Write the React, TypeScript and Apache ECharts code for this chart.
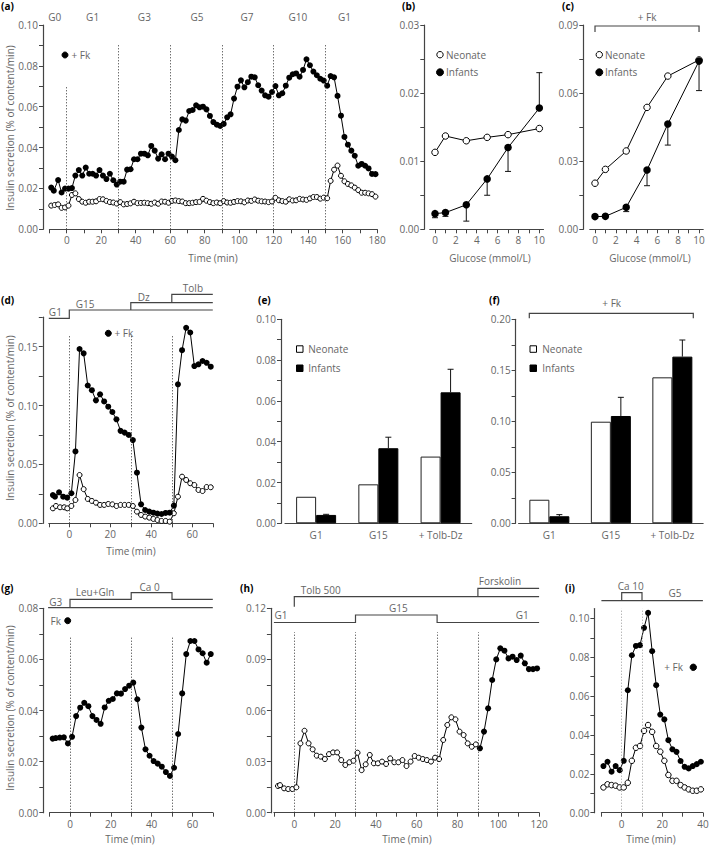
import React, { useEffect, useRef } from 'react';
import * as echarts from 'echarts';

const FONT = '"Open Sans", "Noto Sans", "DejaVu Sans", sans-serif';
const TXT = '#666';
const AXC = '#444';
const Y_TITLE = 'Insulin secretion (% of content/min)';

// ---------- (a) ----------
const aTimeFk = [-9, -7.5, -5, -3, -1, 1, 3, 5, 7, 9, 11, 13, 15, 17, 19, 21, 23, 25, 27, 29, 31, 33, 35, 37, 39, 41, 43, 45, 47, 49, 51, 53, 55, 57, 59, 61, 63, 65, 67, 69, 71, 73, 75, 77, 79, 81, 83, 85, 87, 89, 91, 93, 95, 97, 99, 101, 103, 105, 107, 109, 111, 113, 115, 117, 119, 121, 123, 125, 127, 129, 131, 133, 135, 137, 139, 141, 143, 145, 147, 149, 151, 153, 155, 157, 159, 161, 163, 165, 167, 169, 171, 173, 175, 177, 179];
const aFk = [0.0204, 0.0189, 0.0241, 0.018, 0.0199, 0.0199, 0.0202, 0.0263, 0.029, 0.0263, 0.0302, 0.0272, 0.0272, 0.0263, 0.029, 0.0263, 0.0246, 0.0272, 0.024, 0.0219, 0.0233, 0.0233, 0.0292, 0.0294, 0.0343, 0.0343, 0.037, 0.037, 0.0362, 0.0408, 0.0385, 0.0346, 0.0367, 0.0343, 0.037, 0.0356, 0.0338, 0.0486, 0.0538, 0.0532, 0.0579, 0.0584, 0.0607, 0.0597, 0.06, 0.0587, 0.0555, 0.0525, 0.0512, 0.0506, 0.0516, 0.0548, 0.0563, 0.064, 0.0698, 0.0729, 0.0695, 0.072, 0.0747, 0.0744, 0.0705, 0.0679, 0.0656, 0.0649, 0.0672, 0.0701, 0.0656, 0.0666, 0.0703, 0.0742, 0.0759, 0.0763, 0.0747, 0.078, 0.0832, 0.0803, 0.0772, 0.0754, 0.0737, 0.0728, 0.0703, 0.075, 0.0744, 0.0653, 0.0556, 0.0452, 0.0414, 0.0385, 0.036, 0.0311, 0.032, 0.0311, 0.0298, 0.0271, 0.027];
const aTimeCtl = [-9, -7, -5, -3, -1, 1, 3, 5, 7, 9, 11, 13, 15, 17, 19, 21, 23, 25, 27, 29, 31, 33, 35, 37, 39, 41, 43, 45, 47, 49, 51, 53, 55, 57, 59, 61, 63, 65, 67, 69, 71, 73, 75, 77, 79, 81, 83, 85, 87, 89, 91, 93, 95, 97, 99, 101, 103, 105, 107, 109, 111, 113, 115, 117, 119, 121, 123, 125, 127, 129, 131, 133, 135, 137, 139, 141, 143, 145, 147, 149, 151, 153, 155, 157, 159, 161, 163, 165, 167, 169, 171, 173, 175, 177, 179];
const aCtl = [0.0116, 0.0119, 0.0122, 0.0105, 0.0107, 0.0116, 0.0168, 0.0176, 0.0148, 0.0135, 0.013, 0.0135, 0.0135, 0.0137, 0.0148, 0.0147, 0.0139, 0.0133, 0.0131, 0.0126, 0.0133, 0.0122, 0.0124, 0.0127, 0.0135, 0.0128, 0.0129, 0.013, 0.0128, 0.0125, 0.0131, 0.0125, 0.0136, 0.0135, 0.013, 0.0139, 0.0141, 0.0138, 0.0136, 0.0128, 0.0128, 0.013, 0.0133, 0.0134, 0.0149, 0.014, 0.0133, 0.0128, 0.0131, 0.0128, 0.0138, 0.0131, 0.013, 0.0134, 0.0138, 0.0137, 0.0132, 0.0141, 0.0139, 0.0146, 0.014, 0.0137, 0.0136, 0.0133, 0.0136, 0.0154, 0.0142, 0.0138, 0.0135, 0.0147, 0.0141, 0.0142, 0.0149, 0.0146, 0.0144, 0.0151, 0.0158, 0.0158, 0.015, 0.0155, 0.0152, 0.0237, 0.0292, 0.0312, 0.0262, 0.0235, 0.0222, 0.0215, 0.0204, 0.0192, 0.0179, 0.0179, 0.0176, 0.0172, 0.016];
const aYTicks = [0, 0.01, 0.02, 0.03, 0.04, 0.05, 0.06, 0.07, 0.08, 0.09, 0.1];
const aYLabels = [0, 0.02, 0.04, 0.06, 0.08, 0.1];
const aXTicks = [-10, 0, 10, 20, 30, 40, 50, 60, 70, 80, 90, 100, 110, 120, 130, 140, 150, 160, 170, 180];
const aXLabels = [0, 20, 40, 60, 80, 100, 120, 140, 160, 180];
const aPhaseT = [0, 30, 60, 90, 120, 150];
const aPhaseTop = [0.07, 0.091, 0.091, 0.091, 0.091, 0.091];
const aCondNames = ['G0', 'G1', 'G3', 'G5', 'G7', 'G10', 'G1'];
const aCondT = [-7, 15, 45, 75.5, 104.5, 134, 161];

// ---------- (b) & (c) ----------
const glucose = [0, 1, 3, 5, 7, 10];
const bNeo = [0.0113, 0.0137, 0.013, 0.0135, 0.0139, 0.0148];
const bInf = [0.0023, 0.00245, 0.0036, 0.0074, 0.012, 0.0178];
const bInfErr = [0.0017, 0.0019, 0.0012, 0.005, 0.0085, 0.023];
const bYTicks = [0, 0.005, 0.01, 0.015, 0.02, 0.025, 0.03];
const bYLabels = [0, 0.01, 0.02, 0.03];
const cNeo = [0.0203, 0.0264, 0.0345, 0.0537, 0.0675, 0.0746];
const cInf = [0.0056, 0.0057, 0.0097, 0.0261, 0.0464, 0.0741];
const cInfErr = [0.0056, 0.0057, 0.0078, 0.0192, 0.0371, 0.0611];
const cYTicks = [0, 0.015, 0.03, 0.045, 0.06, 0.075, 0.09];
const cYLabels = [0, 0.03, 0.06, 0.09];
const glcTicks = [0, 1, 2, 3, 4, 5, 6, 7, 8, 9, 10];
const glcLabels = [0, 2, 4, 6, 8, 10];

// ---------- (d) ----------
const dTimeFk = [-8, -7, -5, -3, -1, 1, 3, 5, 7, 9, 11, 13, 15, 17, 19, 21, 23, 25, 27, 29, 31, 33, 35, 37, 39, 41, 43, 45, 47, 49, 51, 53, 55, 57, 59, 61, 63, 65, 67, 69];
const dFk = [0.024, 0.0226, 0.0263, 0.0226, 0.0218, 0.0255, 0.061, 0.148, 0.1443, 0.117, 0.113, 0.1044, 0.1095, 0.1035, 0.099, 0.0945, 0.0883, 0.0785, 0.077, 0.075, 0.0707, 0.043, 0.0161, 0.0113, 0.0099, 0.009, 0.0082, 0.0079, 0.0088, 0.009, 0.015, 0.118, 0.147, 0.166, 0.162, 0.1335, 0.135, 0.1378, 0.1363, 0.133];
const dTimeCtl = [-8, -6.5, -4.5, -2.5, -1, 1, 3, 5, 7, 9, 11, 13, 15, 17, 19, 21, 23, 25, 27, 29, 31, 33, 35, 37, 39, 41, 43, 45, 47, 49, 51, 53, 55, 57, 59, 61, 63, 65, 67, 69];
const dCtl = [0.0127, 0.0147, 0.0136, 0.0136, 0.0127, 0.0147, 0.0198, 0.041, 0.029, 0.0207, 0.019, 0.0175, 0.0156, 0.0156, 0.0164, 0.0161, 0.0147, 0.0156, 0.0156, 0.0156, 0.0147, 0.0099, 0.0071, 0.0057, 0.0048, 0.0037, 0.0028, 0.002, 0.002, 0.0014, 0.0085, 0.0226, 0.0396, 0.0368, 0.034, 0.0325, 0.0283, 0.0274, 0.0308, 0.0306];
const dYTicks = [0, 0.025, 0.05, 0.075, 0.1, 0.125, 0.15, 0.175];
const dYLabels = [0, 0.05, 0.1, 0.15];
const m70Ticks = [-10, 0, 10, 20, 30, 40, 50, 60, 70];
const m70Labels = [0, 20, 40, 60];
const dPhaseT = [0, 30, 50];
const dPhaseTop = [0.16, 0.16, 0.16];

// ---------- (e) & (f) ----------
const barCats = ['G1', 'G15', '+ Tolb-Dz'];
const eNeo = [0.013, 0.0191, 0.0327];
const eInf = [0.0041, 0.0368, 0.0642];
const eInfErr = [0.0044, 0.0422, 0.0755];
const eYTicks = [0, 0.01, 0.02, 0.03, 0.04, 0.05, 0.06, 0.07, 0.08, 0.09, 0.1];
const eYLabels = [0, 0.02, 0.04, 0.06, 0.08, 0.1];
const fNeo = [0.0231, 0.0996, 0.1431];
const fInf = [0.0069, 0.1052, 0.1634];
const fInfErr = [0.0085, 0.1235, 0.1797];
const fYTicks = [0, 0.025, 0.05, 0.075, 0.1, 0.125, 0.15, 0.175, 0.2];
const fYLabels = [0, 0.05, 0.1, 0.15, 0.2];

// ---------- (g) ----------
const gTime = [-8.5, -7, -5, -3, -1, 1, 3, 5, 7, 9, 11, 13, 15, 17, 19, 21, 23, 25, 27, 29, 31, 33, 35, 37, 39, 41, 43, 45, 47, 49, 51, 53, 55, 57, 59, 61, 63, 65, 67, 69];
const gFk = [0.029, 0.0292, 0.0294, 0.0295, 0.0271, 0.0297, 0.0378, 0.0411, 0.043, 0.0417, 0.0378, 0.0363, 0.0348, 0.0412, 0.0438, 0.0445, 0.0467, 0.0466, 0.0484, 0.0497, 0.0509, 0.0444, 0.0333, 0.0248, 0.0223, 0.0202, 0.0192, 0.018, 0.0159, 0.0144, 0.0176, 0.0308, 0.0467, 0.0621, 0.0672, 0.0672, 0.0639, 0.0624, 0.0587, 0.0621];
const gYTicks = [0, 0.01, 0.02, 0.03, 0.04, 0.05, 0.06, 0.07, 0.08];
const gYLabels = [0, 0.02, 0.04, 0.06, 0.08];
const gPhaseT = [0, 30, 50];
const gPhaseTop = [0.069, 0.069, 0.069];

// ---------- (h) ----------
const hTimeCtl = [-8, -7, -5, -3, -1, 1, 3, 5, 7, 9, 11, 13, 15, 17, 19, 21, 23, 25, 27, 29, 31, 33, 35, 37, 39, 41, 43, 45, 47, 49, 51, 53, 55, 57, 59, 61, 63, 65, 67, 69, 71, 73, 75, 77, 79, 81, 83, 85, 87, 89];
const hCtl = [0.0157, 0.0162, 0.0143, 0.0139, 0.0139, 0.0149, 0.0407, 0.0481, 0.0407, 0.0372, 0.0335, 0.0329, 0.0315, 0.0344, 0.0354, 0.0354, 0.0309, 0.028, 0.0296, 0.0305, 0.0352, 0.025, 0.0284, 0.0339, 0.029, 0.029, 0.03, 0.0286, 0.0319, 0.0296, 0.0296, 0.0309, 0.0274, 0.03, 0.0333, 0.0323, 0.0315, 0.0309, 0.03, 0.0323, 0.0315, 0.0427, 0.0515, 0.056, 0.0548, 0.0476, 0.0456, 0.0407, 0.0387, 0.0401];
const hTimeFsk = [91, 93, 95, 97, 99, 101, 103, 105, 107, 109, 111, 113, 115, 117, 119];
const hFsk = [0.0378, 0.0476, 0.0613, 0.0779, 0.09, 0.0965, 0.0951, 0.0906, 0.0916, 0.0896, 0.0922, 0.0877, 0.0843, 0.0843, 0.0847];
const hYTicks = [0, 0.015, 0.03, 0.045, 0.06, 0.075, 0.09, 0.105, 0.12];
const hYLabels = [0, 0.03, 0.06, 0.09, 0.12];
const hXTicks = [-10, 0, 10, 20, 30, 40, 50, 60, 70, 80, 90, 100, 110, 120];
const hXLabels = [0, 20, 40, 60, 80, 100, 120];
const hPhaseT = [0, 30, 70, 90];
const hPhaseTop = [0.106, 0.106, 0.106, 0.106];

// ---------- (i) ----------
const iTime = [-9, -7, -5, -3, -1, 1, 3, 5, 7, 9, 11, 13, 15, 17, 19, 21, 23, 25, 27, 29, 31, 33, 35, 37, 39];
const iFk = [0.024, 0.0262, 0.0211, 0.024, 0.0219, 0.0267, 0.063, 0.081, 0.0858, 0.0862, 0.0951, 0.1028, 0.0831, 0.0656, 0.0505, 0.048, 0.0373, 0.0326, 0.0313, 0.0266, 0.0236, 0.0228, 0.024, 0.025, 0.0262];
const iCtl = [0.013, 0.0146, 0.0142, 0.0139, 0.013, 0.013, 0.0154, 0.0267, 0.0334, 0.0343, 0.0421, 0.0451, 0.0416, 0.0343, 0.0314, 0.0267, 0.0194, 0.0164, 0.0164, 0.0142, 0.013, 0.012, 0.0113, 0.0113, 0.012];
const iYTicks = [0, 0.01, 0.02, 0.03, 0.04, 0.05, 0.06, 0.07, 0.08, 0.09, 0.1];
const iYLabels = [0, 0.02, 0.04, 0.06, 0.08, 0.1];
const iXTicks = [-10, 0, 10, 20, 30, 40];
const iXLabels = [0, 20, 40];
const iPhaseT = [0, 10];
const iPhaseTop = [0.105, 0.105];

// ---------- helpers ----------
const zip = (xs: number[], ys: number[]) => xs.map((x, i) => [x, ys[i]]);

const axisLine = { show: true, onZero: false, lineStyle: { color: AXC, width: 1.2 } };
const labelStyle = { color: TXT, fontSize: 10, fontFamily: FONT };

function xVal(gridIndex: number, min: number, max: number, ticks: number[], labels: number[]) {
  return {
    type: 'value', gridIndex, min, max,
    axisLine,
    axisTick: { show: true, customValues: ticks, length: 4, lineStyle: { color: AXC, width: 1 } },
    axisLabel: { show: true, customValues: labels, margin: 6, formatter: (v: number) => String(v), ...labelStyle },
    splitLine: { show: false },
  };
}
function xCat(gridIndex: number) {
  return {
    type: 'category', gridIndex, data: barCats,
    axisLine,
    axisTick: { show: false },
    axisLabel: { show: true, margin: 7, ...labelStyle },
    splitLine: { show: false },
  };
}
function yVal(gridIndex: number, max: number, ticks: number[], labels: number[], offset: number) {
  return {
    type: 'value', gridIndex, min: 0, max, offset,
    axisLine,
    axisTick: { show: true, customValues: ticks, length: 4, lineStyle: { color: AXC, width: 1 } },
    axisLabel: { show: true, customValues: labels, margin: 5, formatter: (v: number) => v.toFixed(2), ...labelStyle },
    splitLine: { show: false },
  };
}
function vLines(ts: number[], tops: number[], color = '#333') {
  return {
    silent: true, symbol: ['none', 'none'], label: { show: false }, emphasis: { disabled: true },
    lineStyle: { color, width: 1, type: [1, 2] },
    data: ts.map((t, i) => [{ coord: [t, 0] }, { coord: [t, tops[i]] }]),
  };
}
function line(idx: number, data: any[], filled: boolean, size: number, extra: any = {}) {
  return {
    type: 'line', xAxisIndex: idx, yAxisIndex: idx, data,
    symbol: 'circle', symbolSize: size, showSymbol: true, clip: false,
    lineStyle: { color: '#000', width: 1 },
    itemStyle: filled
      ? { color: '#000', borderColor: '#000', borderWidth: 0 }
      : { color: '#fff', borderColor: '#000', borderWidth: 1 },
    emphasis: { disabled: true },
    z: filled ? 4 : 3,
    ...extra,
  };
}
function errBars(idx: number, xs: any[], vals: number[], ends: number[], dx: number, z: number) {
  return {
    type: 'custom', xAxisIndex: idx, yAxisIndex: idx, z, clip: false,
    data: xs.map((x, i) => [x, vals[i], ends[i]]),
    encode: { x: 0, y: [1, 2] },
    renderItem: (_p: any, api: any) => {
      const a = api.coord([api.value(0), api.value(1)]);
      const b = api.coord([api.value(0), api.value(2)]);
      const x = a[0] + dx;
      const st = { stroke: '#111', lineWidth: 1 };
      return {
        type: 'group',
        children: [
          { type: 'line', shape: { x1: x, y1: a[1], x2: x, y2: b[1] }, style: st },
          { type: 'line', shape: { x1: x - 3, y1: b[1], x2: x + 3, y2: b[1] }, style: st },
        ],
      };
    },
  };
}
function bars(idx: number, data: number[], filled: boolean) {
  return {
    type: 'bar', xAxisIndex: idx, yAxisIndex: idx, data, barWidth: 20, barGap: '0%',
    itemStyle: filled ? { color: '#000', borderColor: '#000', borderWidth: 1 } : { color: '#fff', borderColor: '#222', borderWidth: 1 },
    emphasis: { disabled: true }, z: 2,
  };
}

function buildOption() {
  const grid = [
    { left: 49.5, top: 25, width: 327.7, height: 204.3 },
    { left: 429.8, top: 25, width: 113.7, height: 204.3 },
    { left: 589.8, top: 25, width: 113.4, height: 204.3 },
    { left: 48.8, top: 317.2, width: 164, height: 206.1 },
    { left: 285, top: 319.3, width: 186.7, height: 204 },
    { left: 518.6, top: 319.3, width: 184.5, height: 204 },
    { left: 49.6, top: 608.3, width: 163.2, height: 204.4 },
    { left: 273.9, top: 608.3, width: 265.2, height: 204.4 },
    { left: 601.4, top: 608.6, width: 101.5, height: 204.1 },
  ].map((g) => ({ ...g, containLabel: false, outerBoundsMode: 'none' }));

  const xAxis = [
    xVal(0, -10, 180, aXTicks, aXLabels),
    xVal(1, -0.5, 10.4, glcTicks, glcLabels),
    xVal(2, -0.5, 10.4, glcTicks, glcLabels),
    xVal(3, -10, 70, m70Ticks, m70Labels),
    xCat(4),
    xCat(5),
    xVal(6, -10, 70, m70Ticks, m70Labels),
    xVal(7, -10, 120, hXTicks, hXLabels),
    xVal(8, -10, 40, iXTicks, iXLabels),
  ];
  const yAxis = [
    yVal(0, 0.1, aYTicks, aYLabels, 6.5),
    yVal(1, 0.03, bYTicks, bYLabels, 5.5),
    yVal(2, 0.09, cYTicks, cYLabels, 6.5),
    yVal(3, 0.175, dYTicks, dYLabels, 6),
    yVal(4, 0.1, eYTicks, eYLabels, 4),
    yVal(5, 0.2, fYTicks, fYLabels, 3),
    yVal(6, 0.08, gYTicks, gYLabels, 6.3),
    yVal(7, 0.12, hYTicks, hYLabels, 3),
    yVal(8, 0.105, iYTicks, iYLabels, 7),
  ];

  const hData = [
    ...hTimeCtl.map((t, i) => ({ value: [t, hCtl[i]], symbolSize: 5, itemStyle: { color: '#fff', borderColor: '#000', borderWidth: 1 } })),
    ...hTimeFsk.map((t, i) => ({ value: [t, hFsk[i]], symbolSize: 6, itemStyle: { color: '#000', borderColor: '#000', borderWidth: 0 } })),
  ];

  const series: any[] = [
    // (a)
    line(0, zip(aTimeCtl, aCtl), false, 5),
    line(0, zip(aTimeFk, aFk), true, 6, { markLine: vLines(aPhaseT, aPhaseTop) }),
    // (b)
    errBars(1, glucose, bInf, bInfErr, 0, 2),
    line(1, zip(glucose, bNeo), false, 6.5),
    line(1, zip(glucose, bInf), true, 7.5),
    // (c)
    errBars(2, glucose, cInf, cInfErr, 0, 2),
    line(2, zip(glucose, cNeo), false, 6.5),
    line(2, zip(glucose, cInf), true, 7.5),
    // (d)
    line(3, zip(dTimeCtl, dCtl), false, 5),
    line(3, zip(dTimeFk, dFk), true, 6, { markLine: vLines(dPhaseT, dPhaseTop) }),
    // (e)
    bars(4, eNeo, false),
    bars(4, eInf, true),
    errBars(4, [0, 1, 2], eInf, eInfErr, 10, 5),
    // (f)
    bars(5, fNeo, false),
    bars(5, fInf, true),
    errBars(5, [0, 1, 2], fInf, fInfErr, 10, 5),
    // (g)
    line(6, zip(gTime, gFk), true, 6, { markLine: vLines(gPhaseT, gPhaseTop) }),
    // (h)
    line(7, hData, false, 5, { markLine: vLines(hPhaseT, hPhaseTop) }),
    // (i)
    line(8, zip(iTime, iCtl), false, 5.5),
    line(8, zip(iTime, iFk), true, 6, { markLine: vLines(iPhaseT, iPhaseTop, '#999') }),
  ];

  return {
    animation: false,
    textStyle: { fontFamily: FONT },
    grid, xAxis, yAxis, series,
  };
}

// ---------- graphic annotations ----------
function txt(text: string, x: number, y: number, o: any = {}) {
  return {
    type: 'text', x, y, silent: true, rotation: o.rotation || 0,
    style: {
      text, fill: o.fill || TXT, fontSize: o.size || 10, fontFamily: FONT, fontWeight: o.weight || 'normal',
      textAlign: o.align || 'center', textVerticalAlign: 'middle',
    },
  };
}
function poly(points: number[][]) {
  return { type: 'polyline', silent: true, shape: { points }, style: { stroke: AXC, lineWidth: 1.2, fill: null } };
}
function dot(x: number, y: number, r: number, filled: boolean) {
  return { type: 'circle', silent: true, shape: { cx: x, cy: y, r }, style: { fill: filled ? '#000' : '#fff', stroke: '#000', lineWidth: 1 } };
}
function sq(x: number, y: number, filled: boolean) {
  return { type: 'rect', silent: true, shape: { x, y, width: 6.5, height: 6.5 }, style: { fill: filled ? '#000' : '#fff', stroke: '#000', lineWidth: 1 } };
}

function buildGraphic(px: (i: number, t: number) => number) {
  const bold = { fill: '#000', weight: 'bold', align: 'left' };
  const el: any[] = [];
  // panel letters
  el.push(txt('(a)', 1, 6, bold), txt('(b)', 402, 6, bold), txt('(c)', 562, 6, bold));
  el.push(txt('(d)', 1, 300, bold), txt('(e)', 258, 300, bold), txt('(f)', 489, 300, bold));
  el.push(txt('(g)', 1, 588, bold), txt('(h)', 240, 588, bold), txt('(i)', 565, 588, bold));

  // axis titles
  el.push(txt(Y_TITLE, 10, 128, { rotation: Math.PI / 2 }));
  el.push(txt(Y_TITLE, 9.5, 418, { rotation: Math.PI / 2 }));
  el.push(txt(Y_TITLE, 9.5, 708, { rotation: Math.PI / 2 }));
  el.push(txt('Time (min)', 213, 257.5));
  el.push(txt('Glucose (mmol/L)', 490, 258));
  el.push(txt('Glucose (mmol/L)', 650, 258));
  el.push(txt('Time (min)', 131, 551));
  el.push(txt('Time (min)', 130, 839));
  el.push(txt('Time (min)', 407, 839));
  el.push(txt('Time (min)', 651, 839));

  // (a)
  aCondNames.forEach((n, i) => el.push(txt(n, px(0, aCondT[i]), 17)));
  el.push(dot(65, 55, 3, true), txt('+ Fk', 71.5, 55, { align: 'left' }));

  // (b)
  el.push(dot(440, 54.7, 3.2, false), txt('Neonate', 446, 54.7, { align: 'left' }));
  el.push(dot(440, 72.3, 3.5, true), txt('Infants', 446, 72.3, { align: 'left' }));

  // (c)
  el.push(dot(599.3, 54.7, 3.2, false), txt('Neonate', 605, 54.7, { align: 'left' }));
  el.push(dot(599.3, 72.3, 3.5, true), txt('Infants', 605, 72.3, { align: 'left' }));
  el.push(poly([[px(2, 0), 32], [px(2, 0), 26], [px(2, 10), 26], [px(2, 10), 32]]));
  el.push(txt('+ Fk', (px(2, 0) + px(2, 10)) / 2, 16.5));

  // (d)
  el.push(poly([[px(3, -10), 318.3], [px(3, 0), 318.3], [px(3, 0), 310], [px(3, 70), 310]]));
  el.push(poly([[px(3, 30), 310], [px(3, 30), 302.7], [px(3, 70), 302.7]]));
  el.push(poly([[px(3, 50), 302.7], [px(3, 50), 294.3], [px(3, 70), 294.3]]));
  el.push(txt('G1', px(3, -6.8), 312), txt('G15', px(3, 7.7), 304), txt('Dz', px(3, 36.3), 296.5), txt('Tolb', px(3, 60.3), 288.3));
  el.push(dot(108.3, 333.3, 3, true), txt('+ Fk', 114.5, 333.3, { align: 'left' }));

  // (e)
  el.push(sq(296.5, 345.8, false), txt('Neonate', 308.3, 349, { align: 'left' }));
  el.push(sq(296.5, 365, true), txt('Infants', 308.3, 368.3, { align: 'left' }));

  // (f)
  el.push(sq(530, 345.8, false), txt('Neonate', 542.3, 349, { align: 'left' }));
  el.push(sq(530, 365, true), txt('Infants', 542.3, 368.3, { align: 'left' }));
  el.push(poly([[529.3, 318.3], [529.3, 313.3], [693.3, 313.3], [693.3, 318.3]]));
  el.push(txt('+ Fk', 611.7, 302.5));

  // (g)
  el.push(poly([[px(6, -10) - 1.5, 607.7], [px(6, 70), 607.7]]));
  el.push(poly([[px(6, 0), 607.7], [px(6, 0), 599.3], [px(6, 30), 599.3], [px(6, 30), 592.7], [px(6, 50), 592.7], [px(6, 50), 599.3], [px(6, 70), 599.3]]));
  el.push(txt('G3', 55.7, 602), txt('Leu+Gln', px(6, 12.3), 592.3), txt('Ca 0', px(6, 39), 586.5));
  el.push(txt('Fk', 61, 620.7, { align: 'right' }), dot(67.7, 620.7, 3, true));

  // (h)
  el.push(poly([[px(7, -10), 622.5], [px(7, 30), 622.5], [px(7, 30), 615], [px(7, 70), 615], [px(7, 70), 622.5], [px(7, 120), 622.5]]));
  el.push(poly([[px(7, 0), 606.7], [px(7, 0), 596.7], [px(7, 120), 596.7]]));
  el.push(poly([[px(7, 90), 596.7], [px(7, 90), 588.3], [px(7, 120), 588.3]]));
  el.push(txt('G1', 281, 615), txt('G15', 398.3, 608.3), txt('G1', 522.3, 615));
  el.push(txt('Tolb 500', 320.7, 590), txt('Forskolin', 500, 581));

  // (i)
  el.push(poly([[px(8, -10), 600.7], [px(8, 40), 600.7]]));
  el.push(poly([[px(8, 0), 600.7], [px(8, 0), 592.7], [px(8, 10), 592.7], [px(8, 10), 600.7]]));
  el.push(txt('Ca 10', 630.7, 585.7), txt('G5', 675, 593.3));
  el.push(txt('+ Fk', 664.3, 667.3, { align: 'left' }), dot(693.3, 667.3, 3.2, true));

  return el;
}

export default function App() {
  const ref = useRef<HTMLDivElement>(null);
  useEffect(() => {
    document.body.style.margin = '0';
    const chart = echarts.init(ref.current as HTMLDivElement, undefined, { renderer: 'svg' });
    chart.setOption(buildOption() as any);
    const px = (i: number, t: number) => chart.convertToPixel({ xAxisIndex: i } as any, t) as unknown as number;
    chart.setOption({ graphic: { elements: buildGraphic(px) } } as any);
    return () => chart.dispose();
  }, []);
  return <div ref={ref} style={{ width: 709, height: 846 }} />;
}
